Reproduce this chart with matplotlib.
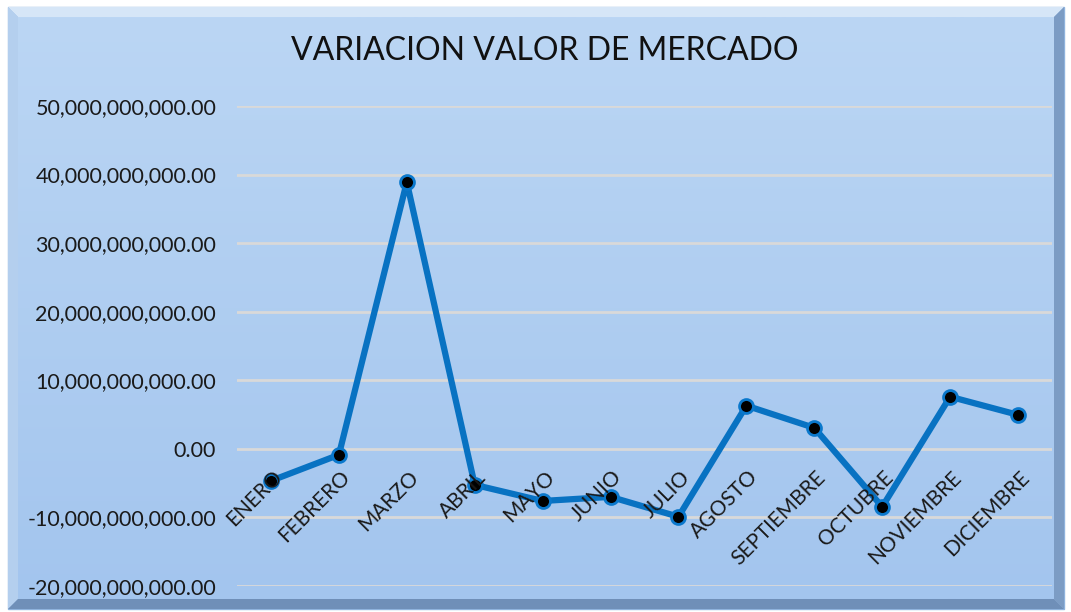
import numpy as np
import matplotlib
matplotlib.use("Agg")
import matplotlib.pyplot as plt
from matplotlib.patches import Rectangle, Polygon
from matplotlib.ticker import FuncFormatter

plt.rcParams['font.family'] = ['Lato', 'DejaVu Sans']

meses = ["ENERO", "FEBRERO", "MARZO", "ABRIL", "MAYO", "JUNIO", "JULIO",
         "AGOSTO", "SEPTIEMBRE", "OCTUBRE", "NOVIEMBRE", "DICIEMBRE"]
variacion = [-4.66e9, -0.87e9, 38.9e9, -5.25e9, -7.6e9, -7.0e9, -9.9e9,
             6.3e9, 3.06e9, -8.45e9, 7.6e9, 4.96e9]
y_ticks = [-20e9, -10e9, 0, 10e9, 20e9, 30e9, 40e9, 50e9]
titulo = "VARIACION VALOR DE MERCADO"

W, H = 1071, 612
fig = plt.figure(figsize=(W / 100, H / 100), dpi=100, facecolor="white")

# ----- background frame with bevel -----
bg = fig.add_axes([0, 0, 1, 1], zorder=0)
bg.set_xlim(0, W)
bg.set_ylim(H, 0)
bg.axis("off")
x0, y0, x1, y1 = 8, 7, 1064, 609
b = 10
bg.add_patch(Rectangle((x0, y0), x1 - x0, y1 - y0, facecolor="#9dbfe6",
                       edgecolor="#8fb3dd", lw=1))
# bevel sides
bg.add_patch(Polygon([(x0, y0), (x1, y0), (x1 - b, y0 + b), (x0 + b, y0 + b)],
                     closed=True, facecolor="#d6e6f7", lw=0))
bg.add_patch(Polygon([(x0, y0), (x0 + b, y0 + b), (x0 + b, y1 - b), (x0, y1)],
                     closed=True, facecolor="#b4cfee", lw=0))
bg.add_patch(Polygon([(x1, y0), (x1, y1), (x1 - b, y1 - b), (x1 - b, y0 + b)],
                     closed=True, facecolor="#7c9cc4", lw=0))
bg.add_patch(Polygon([(x0, y1), (x1, y1), (x1 - b, y1 - b), (x0 + b, y1 - b)],
                     closed=True, facecolor="#6f8fb8", lw=0))
grad = np.linspace(0, 1, 256).reshape(-1, 1)
top_c = np.array([0xbb, 0xd6, 0xf4]) / 255
bot_c = np.array([0xa3, 0xc5, 0xee]) / 255
img = top_c[None, None, :] * (1 - grad[..., None]) + bot_c[None, None, :] * grad[..., None]
bg.imshow(img, extent=(x0 + b, x1 - b, y1 - b, y0 + b), aspect="auto", zorder=1)

# ----- chart -----
left, right, top, bottom = 237, 1052, 106, 586
ax = fig.add_axes([left / W, 1 - bottom / H, (right - left) / W, (bottom - top) / H], zorder=2)
ax.patch.set_alpha(0)
x = np.arange(len(meses))
ax.plot(x, variacion, color="#0872c2", lw=4.5, zorder=3, solid_joinstyle="round")
ax.plot(x, variacion, "o", ms=10, mfc="black", mec="#0a78cc", mew=2, zorder=4)

ax.set_xlim(-0.5, len(meses) - 0.5)
ax.set_ylim(-20e9, 50e9)
ax.set_yticks(y_ticks)
ax.yaxis.set_major_formatter(FuncFormatter(lambda v, p: f"{v:,.2f}"))
ax.tick_params(axis="y", length=0, pad=15, labelsize=15.5, labelcolor="#1a1a1a")
ax.grid(axis="y", color="#d9d9d9", lw=2)
ax.set_axisbelow(True)
ax.set_xticks([])
for s in ax.spines.values():
    s.set_visible(False)

for i, m in enumerate(meses):
    ax.annotate(m, (i, 0), xytext=(1, -13), textcoords="offset points",
                rotation=45, ha="right", va="top", rotation_mode="anchor",
                fontsize=15, color="#1a1a1a", zorder=5)

fig.text(545 / W, 1 - 51 / H, titulo, ha="center", va="center",
         fontsize=23, color="#111111")

fig.savefig("out.png", dpi=100, facecolor="white")
